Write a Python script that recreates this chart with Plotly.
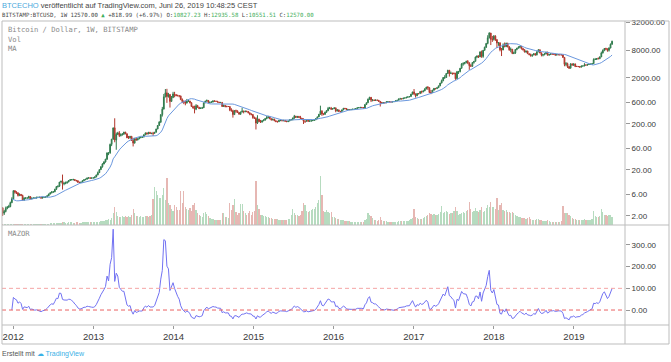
import pandas as pd
import plotly.graph_objects as go

# ---------------- weekly data (Bitstamp BTCUSD, weeks starting Monday 2011-08-15) ----------------
first_open = 11.2

close_2011 = [10.9, 8.8, 8.3, 5.9, 5.4, 5.3, 5.0, 4.8, 4.0, 3.2, 3.2, 3.2, 3.0, 2.3, 2.5, 2.9, 3.1, 3.2, 3.9, 4.7]
high_2011 = [11.9, 11.2, 9.5, 8.4, 6.9, 6.0, 5.5, 5.3, 4.9, 4.2, 3.6, 3.6, 3.4, 3.1, 2.7, 3.2, 3.3, 3.5, 4.1, 5.1]
low_2011 = [10.0, 8.2, 7.8, 4.8, 4.8, 4.6, 4.6, 4.4, 3.7, 2.2, 2.9, 3.0, 2.9, 2.0, 2.1, 2.4, 2.8, 3.0, 3.1, 3.8]
vol_2011 = [2, 2, 2, 2, 2, 1.5, 1.5, 1.5, 1.5, 1.5, 1.2, 1.2, 1.2, 1.2, 1.2, 1, 1, 1, 1, 1.2]

close_2012 = [7.1, 6.6, 6.3, 5.6, 5.9, 5.6, 4.4, 4.9, 4.9, 4.9, 5.3, 4.7, 4.9, 4.9, 4.9, 5.1, 5.1, 5.1,
              4.9, 5.1, 5.1, 5.2, 5.5, 6.0, 6.4, 6.7, 6.7, 7.6, 8.7, 8.9, 10.9, 11.4, 10.0, 10.2, 10.5,
              11.0, 11.8, 12.3, 12.4, 12.4, 11.9, 11.7, 10.9, 10.7, 10.9, 11.7, 12.3, 12.6, 13.4, 13.5,
              13.3, 13.4, 13.5]
high_2012 = [7.2, 7.2, 6.9, 6.6, 6.2, 6.0, 5.8, 5.1, 5.1, 5.1, 5.5, 5.4, 5.0, 5.0, 5.0, 5.2, 5.2, 5.2,
             5.2, 5.2, 5.2, 5.3, 5.6, 6.1, 6.5, 6.9, 6.9, 7.8, 8.9, 9.2, 11.0, 11.6, 15.9, 11.0, 11.2,
             11.2, 12.0, 12.6, 12.5, 12.9, 12.5, 12.0, 11.8, 11.0, 11.0, 11.8, 12.4, 12.8, 13.6, 13.8,
             13.6, 13.6, 13.6]
low_2012 = [4.7, 6.1, 6.0, 5.3, 5.4, 5.4, 4.3, 4.3, 4.7, 4.8, 4.8, 4.6, 4.6, 4.8, 4.8, 4.8, 4.9, 4.9,
            4.8, 4.8, 5.0, 5.0, 5.1, 5.4, 5.9, 6.2, 6.4, 6.6, 7.4, 8.3, 8.6, 10.6, 7.5, 9.3, 9.8,
            10.1, 10.8, 11.6, 11.8, 11.8, 11.5, 11.2, 10.5, 10.3, 10.5, 10.8, 11.6, 12.0, 12.5, 13.0,
            12.9, 13.1, 13.1]
vol_2012 = [1.2, 1, 1, 0.9, 0.9, 0.8, 0.9, 0.8, 0.8, 0.8, 0.8, 0.8, 0.8, 0.8, 0.8, 0.8, 0.9, 0.9,
            1, 1, 1.1, 1.2, 1.3, 1.5, 1.6, 1.8, 2, 2, 2.2, 2.2, 2.5, 2.5, 3.5, 2.8, 2.5,
            2.5, 2.6, 2.8, 2.6, 2.5, 2.4, 2.6, 2.7, 2.5, 2.5, 2.6, 2.7, 2.6, 2.8, 3, 2.8, 2.6, 2.8]

close_2013 = [14.1, 15.6, 17.5, 20.4, 23.5, 27.0, 29.9, 34.4, 46.9, 47.0, 72.0, 93.0,
              165, 90, 119, 128, 112, 117, 122, 133, 122, 100, 100, 108, 88,
              77, 96, 90, 95, 102, 103, 104, 117, 128, 122, 131, 124, 126, 125,
              132, 155, 185, 220, 320, 420, 780, 950, 790, 870, 620, 750, 900]
high_2013 = [14.3, 15.8, 18.5, 20.5, 24.0, 28.0, 31.0, 34.8, 48.4, 48.0, 75.0, 95.0,
             165, 266, 130, 135, 140, 125, 123, 135, 135, 125, 110, 110, 108,
             100, 100, 100, 97, 104, 106, 107, 118, 130, 130, 135, 135, 128, 135,
             133, 158, 190, 230, 320, 470, 900, 1150, 1163, 950, 900, 810, 1000]
low_2013 = [13.2, 14.0, 15.4, 17.3, 20.0, 22.5, 26.6, 29.0, 33.0, 42.0, 45.0, 66.0,
            92, 80, 55, 115, 104, 107, 112, 115, 120, 99, 95, 96, 86,
            65, 75, 86, 88, 94, 98, 100, 103, 114, 118, 120, 122, 120, 110,
            124, 132, 155, 185, 210, 290, 420, 760, 576, 750, 455, 610, 730]
vol_2013 = [3, 3, 3.5, 3.5, 4, 4, 4.5, 5, 5, 6, 5.5, 7, 12, 18, 13, 9, 8, 8, 9, 8, 9,
            8, 9, 8, 10, 16, 12, 9, 9, 8, 9, 8, 8, 9, 9, 8, 9, 10, 26,
            38, 34, 30, 27, 27, 30, 37, 25, 47, 22, 20, 16, 14]

close_2014 = [870, 830, 825, 810, 680, 620, 600, 570, 630, 630, 580, 480, 450,
              420, 500, 460, 435, 440, 450, 575, 630, 650, 590, 595, 600, 635,
              625, 625, 600, 585, 590, 480, 505, 480, 480, 480, 400, 390, 320,
              390, 385, 355, 325, 365, 380, 370, 380, 375, 350, 330, 320, 275]
high_2014 = [1000, 880, 870, 840, 830, 720, 650, 650, 700, 670, 640, 590, 500,
             500, 540, 520, 470, 460, 470, 590, 640, 680, 660, 610, 620, 650,
             650, 630, 630, 600, 600, 595, 530, 520, 500, 490, 480, 440, 410,
             400, 410, 395, 365, 370, 450, 390, 390, 385, 380, 355, 340, 330]
low_2014 = [760, 800, 800, 760, 660, 570, 540, 510, 560, 610, 560, 470, 430,
            340, 400, 455, 420, 425, 430, 445, 570, 610, 570, 560, 585, 590,
            615, 605, 590, 575, 580, 470, 470, 460, 460, 470, 380, 370, 275,
            320, 350, 350, 330, 320, 355, 340, 360, 360, 340, 310, 310, 260]
vol_2014 = [20, 18, 15, 15, 34, 22, 34, 18, 16, 15, 17, 14, 20, 22, 15, 12, 10,
            9, 8, 12, 13, 11, 9, 7, 6, 6, 5, 5, 5, 5, 5, 12, 12, 8,
            8, 7, 22, 15, 20, 26, 13, 10, 12, 21, 21, 14, 12, 10, 12, 14, 10, 13]

close_2015 = [265, 210, 255, 225, 220, 235, 245, 260, 275, 285, 260, 245, 255,
              235, 225, 225, 240, 240, 235, 240, 230, 225, 232, 245, 250, 270,
              295, 280, 290, 280, 265, 255, 230, 230, 240, 230, 232, 235, 240,
              245, 260, 285, 325, 380, 330, 325, 360, 390, 435, 440, 420, 430]
high_2015 = [290, 280, 310, 260, 245, 240, 250, 270, 300, 300, 295, 265, 260,
             260, 240, 235, 245, 245, 245, 245, 240, 235, 235, 255, 255, 275,
             315, 300, 300, 300, 300, 270, 265, 235, 240, 245, 240, 240, 245,
             250, 270, 290, 330, 500, 400, 340, 370, 395, 470, 470, 470, 440]
low_2015 = [260, 152, 200, 220, 210, 215, 230, 235, 255, 265, 255, 240, 240,
            230, 220, 215, 220, 230, 230, 230, 225, 220, 220, 230, 240, 240,
            260, 270, 270, 270, 260, 250, 200, 210, 225, 225, 225, 225, 235,
            235, 245, 260, 285, 320, 300, 310, 315, 350, 380, 420, 410, 415]
vol_2015 = [14, 44, 20, 16, 10, 10, 9, 9, 8, 8, 7, 7, 6, 6, 6, 6, 5, 5, 5, 5, 5,
            5, 6, 6, 10, 16, 12, 10, 10, 9, 10, 14, 22, 20, 14, 13, 14, 15, 16,
            16, 18, 22, 25, 49, 30, 14, 13, 15, 13, 12, 13, 8]

close_2016 = [448, 385, 405, 375, 375, 405, 440, 435, 410, 412, 410, 415, 420,
              420, 430, 450, 455, 460, 455, 445, 530, 580, 690, 760, 660, 665,
              650, 665, 655, 620, 590, 570, 580, 575, 610, 610, 605, 600, 610,
              615, 640, 655, 700, 705, 700, 730, 735, 765, 780, 790, 890, 995]
high_2016 = [460, 455, 420, 410, 385, 410, 445, 445, 440, 425, 420, 420, 425,
             425, 432, 452, 465, 465, 465, 455, 530, 585, 715, 780, 770, 690,
             680, 680, 670, 660, 630, 600, 595, 585, 615, 620, 615, 610, 615,
             620, 645, 660, 715, 740, 725, 740, 750, 770, 780, 790, 900, 1000]
low_2016 = [425, 360, 375, 365, 360, 370, 400, 420, 405, 405, 405, 410, 415,
            410, 415, 425, 445, 440, 445, 440, 440, 520, 570, 670, 600, 620,
            640, 640, 650, 615, 480, 550, 565, 565, 575, 600, 600, 590, 595,
            605, 615, 635, 650, 690, 690, 700, 725, 730, 750, 760, 785, 880]
vol_2016 = [8, 7, 6, 6, 5, 5, 5, 4, 4, 4, 4, 3, 3, 3, 3, 3, 3, 3, 3, 3, 5, 6,
            12, 10, 9, 7, 5, 5, 4, 5, 8, 5, 4, 4, 4, 3, 3, 3, 3,
            3, 3, 3, 4, 4, 4, 4, 4, 4, 4, 5, 6, 7]

close_2017 = [905, 820, 920, 915, 1020, 1000, 1050, 1150, 1270, 1230, 970, 960, 1090,
              1190, 1170, 1230, 1350, 1550, 1750, 2050, 2050, 2500, 2950, 2500, 2550, 2500,
              2500, 1930, 2750, 2750, 3250, 4050, 4100, 4350, 4600, 4300, 3700, 3600, 4350,
              4600, 5700, 6000, 5750, 7400, 5900, 8000, 9300, 11300, 15000, 19000, 13800, 13800]
high_2017 = [1150, 910, 930, 930, 1020, 1060, 1060, 1200, 1280, 1330, 1250, 1100, 1100,
             1210, 1210, 1240, 1350, 1560, 1850, 2100, 2300, 2550, 3000, 2980, 2760, 2600,
             2650, 2600, 2850, 2850, 3300, 4200, 4400, 4450, 4750, 4900, 4250, 4000, 4400,
             4600, 5850, 6150, 6200, 7500, 7900, 8100, 9600, 11400, 17000, 19700, 19100, 16400]
low_2017 = [850, 750, 810, 875, 910, 920, 980, 1040, 1140, 1100, 940, 890, 950,
            1060, 1130, 1170, 1210, 1330, 1530, 1700, 1900, 2050, 2450, 2150, 2450, 2350,
            2400, 1830, 2250, 2450, 2650, 3200, 3700, 3950, 4150, 4000, 3000, 3550, 3500,
            4100, 4600, 5400, 5450, 5700, 5500, 5500, 7900, 9000, 10800, 14500, 10400, 12200]
vol_2017 = [16, 8, 7, 6, 6, 6, 7, 8, 9, 10, 12, 11, 10, 11, 10, 10, 11, 13, 19, 12, 13, 14,
            13, 11, 12, 12, 14, 18, 14, 10, 11, 12, 13, 12, 14, 15, 23, 16, 13,
            14, 17, 14, 13, 15, 18, 13, 14, 17, 20, 18, 23, 18]

close_2018 = [16200, 13600, 11500, 11700, 8200, 8100, 10400, 9600, 11400, 9500, 8200, 8450, 6850,
              7000, 8350, 8900, 9350, 9650, 8700, 8250, 7350, 7700, 6750, 6450, 6150, 6350,
              6750, 6350, 7400, 8200, 7000, 6300, 6400, 6700, 7300, 6250, 6500, 6700, 6600,
              6600, 6300, 6450, 6400, 6400, 6350, 5600, 3950, 4100, 3550, 3250, 4000, 3850, 4050]
high_2018 = [17200, 17000, 14000, 12000, 11700, 9000, 11300, 11800, 11700, 11600, 9900, 9200, 8500,
             7500, 8500, 9000, 9750, 9950, 9950, 8900, 8400, 7800, 7800, 6800, 6800, 6500,
             6850, 6900, 7600, 8500, 8300, 7200, 6600, 6900, 7400, 7400, 6600, 6850, 6800,
             6700, 6700, 6650, 6550, 6500, 6600, 6400, 5650, 4450, 4300, 3600, 4200, 4200, 4100]
low_2018 = [13000, 12800, 9000, 10000, 7600, 6000, 8200, 9300, 9400, 9300, 7800, 7250, 6600,
            6600, 6700, 8000, 8800, 8800, 8300, 7900, 7200, 7050, 6650, 6250, 5800, 5750,
            6250, 6100, 6200, 7300, 6900, 5900, 5900, 6250, 6600, 6200, 6200, 6300, 6500,
            6500, 6150, 6200, 6350, 6200, 6300, 5500, 3600, 3600, 3300, 3150, 3250, 3700, 3650]
vol_2018 = [18, 16, 27, 15, 20, 22, 15, 14, 15, 13, 13, 12, 13, 12, 10, 9, 8, 8, 7, 7, 7, 6,
            7, 8, 6, 5, 5, 5, 6, 6, 5, 5, 4, 4, 4, 5, 4, 3, 3, 3, 3, 3, 3, 3,
            4, 19, 12, 12, 12, 10, 9, 7, 6]

close_2019 = [3550, 3550, 3550, 3450, 3650, 3650, 3850, 3820, 3920, 4000, 4000, 4100,
              5050, 5050, 5300, 5250, 5750, 7000, 8000, 8750, 8550, 8000, 8950, 10827.23, 12570.00]
high_2019 = [4100, 3700, 3650, 3580, 3700, 3720, 4200, 3900, 3950, 4020, 4080, 4150,
             5350, 5450, 5350, 5600, 5900, 7500, 8350, 8950, 9100, 8800, 9300, 11250, 12935.58]
low_2019 = [3450, 3470, 3430, 3350, 3400, 3560, 3600, 3700, 3700, 3850, 3950, 3950,
            4050, 4950, 5000, 5100, 5150, 5700, 6800, 7650, 8000, 7450, 7500, 8850, 10551.51]
vol_2019 = [6, 5, 5, 5, 5, 5, 6, 5, 5, 5, 5, 6, 14, 9, 8, 8, 9, 16, 13, 10, 10, 9, 10, 10, 8]

years = ["2011", "2012", "2013", "2014", "2015", "2016", "2017", "2018", "2019"]
price_ticks = [2, 6, 20, 60, 200, 600, 2000, 8000, 32000]
price_tick_text = ["2.00", "6.00", "20.00", "60.00", "200.00", "600.00", "2000.00", "8000.00", "32000.00"]
osc_ticks = [0, 100, 200, 300]
osc_tick_text = ["0.00", "100.00", "200.00", "300.00"]
year_ticks = ["2012-01-01", "2013-01-01", "2014-01-01", "2015-01-01", "2016-01-01",
              "2017-01-01", "2018-01-01", "2019-01-01"]
year_labels = ["2012", "2013", "2014", "2015", "2016", "2017", "2018", "2019"]

# ---------------- assemble ----------------
g = globals()
close = sum((g["close_" + y] for y in years), [])
high = sum((g["high_" + y] for y in years), [])
low = sum((g["low_" + y] for y in years), [])
vol = sum((g["vol_" + y] for y in years), [])
for y in years:
    n = len(g["close_" + y])
    assert len(g["high_" + y]) == n and len(g["low_" + y]) == n and len(g["vol_" + y]) == n, y

dates = pd.date_range("2011-08-15", periods=len(close), freq="7D")
opens = [first_open] + close[:-1]
high = [max(h, o, c) for h, o, c in zip(high, opens, close)]
low = [min(l, o, c) for l, o, c in zip(low, opens, close)]

cs = pd.Series(close)
ma = cs.rolling(20).mean()          # MA (20 weeks)
mazor = (cs / ma - 1.0) * 100.0     # MAZOR: % distance of close from MA

UP_LINE, UP_FILL = "#2f7a4c", "#5ea77b"
DN_LINE, DN_FILL = "#b1362c", "#d75442"
VOL_UP, VOL_DN = "#b6dbbf", "#e6b7b3"
vol_colors = [VOL_UP if c >= o else VOL_DN for o, c in zip(opens, close)]

# pixel helpers (plot area: x 2..625, y 21..325)
def px(x):
    return (x - 2) / 623.0

def py(y):
    return (325 - y) / 304.0

SPLIT = py(225)

fig = go.Figure()
fig.add_trace(go.Bar(x=dates, y=vol, marker=dict(color=vol_colors, line=dict(width=0)),
                     width=7 * 86400000 * 0.8, xaxis="x", yaxis="y", hoverinfo="skip"))
fig.add_trace(go.Candlestick(x=dates, open=opens, high=high, low=low, close=close,
                             increasing=dict(line=dict(color=UP_LINE, width=1), fillcolor=UP_FILL),
                             decreasing=dict(line=dict(color=DN_LINE, width=1), fillcolor=DN_FILL),
                             whiskerwidth=0, xaxis="x", yaxis="y2", hoverinfo="skip"))
fig.add_trace(go.Scatter(x=dates, y=ma, mode="lines", line=dict(color="#6b98de", width=1),
                         xaxis="x", yaxis="y2", hoverinfo="skip"))
fig.add_trace(go.Scatter(x=dates, y=mazor, mode="lines", line=dict(color="#7272f2", width=1),
                         xaxis="x", yaxis="y3", hoverinfo="skip"))

axis_font = dict(family="Liberation Sans, Arial, sans-serif", size=8, color="#3a3a3a")
fig.update_layout(
    width=671, height=362,
    margin=dict(l=2, r=46, t=21, b=37),
    paper_bgcolor="white", plot_bgcolor="white",
    showlegend=False, bargap=0, hovermode=False,
    xaxis=dict(domain=[0, 1], anchor="y3", type="date",
               range=["2011-11-11", "2019-08-22"],
               tickvals=year_ticks, ticktext=year_labels,
               tickfont=dict(family="Liberation Sans, Arial, sans-serif", size=9.5, color="#3a3a3a"),
               ticks="outside", ticklen=3, tickcolor="#999", showgrid=False, zeroline=False,
               showline=False, rangeslider=dict(visible=False)),
    yaxis=dict(domain=[SPLIT, 1], anchor="x", range=[0, 204], visible=False,
               showgrid=False, zeroline=False),
    yaxis2=dict(overlaying="y", anchor="x", side="right", type="log",
                range=[0.105, 4.54], tickvals=price_ticks, ticktext=price_tick_text,
                tickfont=axis_font, ticks="outside", ticklen=4, tickcolor="#999",
                showgrid=False, zeroline=False, showline=False),
    yaxis3=dict(domain=[0, SPLIT], anchor="x", side="right", range=[-69, 392],
                tickvals=osc_ticks, ticktext=osc_tick_text, tickfont=axis_font,
                ticks="outside", ticklen=4, tickcolor="#999",
                showgrid=False, zeroline=False, showline=False),
)

# dashed reference levels in the MAZOR pane
fig.add_shape(type="line", xref="paper", yref="y3", x0=0, x1=1, y0=100, y1=100,
              line=dict(color="#f5a4a4", width=1, dash="4px,3px"))
fig.add_shape(type="line", xref="paper", yref="y3", x0=0, x1=1, y0=0, y1=0,
              line=dict(color="#ea6262", width=1, dash="4px,3px"))

# frame lines
BORDER = "#bdbdbd"
XR = px(669)
YB = py(344)
for y0 in [1, SPLIT, 0, YB]:
    fig.add_shape(type="line", xref="paper", yref="paper", x0=0, x1=XR, y0=y0, y1=y0,
                  line=dict(color=BORDER, width=1))
for x0 in [0, 1, XR]:
    fig.add_shape(type="line", xref="paper", yref="paper", x0=x0, x1=x0, y0=YB, y1=1,
                  line=dict(color=BORDER, width=1))

GREEN = "#3fae5a"
hdr1 = ("<span style='color:#4aa8dc'>BTCECHO</span> veröffentlicht auf TradingView.com, "
        "Juni 26, 2019 10:48:25 CEST")
hdr2 = ("BITSTAMP:BTCUSD, 1W 12570.00 <span style='color:%s'>▲</span> +818.99 (+6.97%%) "
        "O:<span style='color:%s'>10827.23</span> H:<span style='color:%s'>12935.58</span> "
        "L:<span style='color:%s'>10551.51</span> C:<span style='color:%s'>12570.00</span>"
        % (GREEN, GREEN, GREEN, GREEN, GREEN))
mono = "DejaVu Sans Mono, monospace"
texts = [
    (hdr1, px(1), py(6), dict(family="Liberation Sans, Arial", size=7.5, color="#444")),
    (hdr2, px(1), py(15), dict(family=mono, size=5.7, color="#444")),
    ("Bitcoin / Dollar, 1W, BITSTAMP", px(7), py(30), dict(family=mono, size=7.2, color="#8a8a8a")),
    ("Vol", px(7), py(39.5), dict(family=mono, size=7.2, color="#8a8a8a")),
    ("MA", px(7), py(48.5), dict(family=mono, size=7.2, color="#8a8a8a")),
    ("MAZOR", px(7), py(233), dict(family=mono, size=7.2, color="#8a8a8a")),
    ("Erstellt mit <span style='color:#3bb0e6'>☁ TradingView</span>", px(1), py(354),
     dict(family="Liberation Sans, Arial", size=7.0, color="#555")),
]
for t, x, y, f in texts:
    fig.add_annotation(text=t, x=x, y=y, xref="paper", yref="paper", xanchor="left",
                       yanchor="middle", showarrow=False, font=f, borderpad=0)

fig.write_html("out.html", config={"displayModeBar": False, "staticPlot": True},
               post_script="document.body.style.margin='0';document.body.style.padding='0';")
